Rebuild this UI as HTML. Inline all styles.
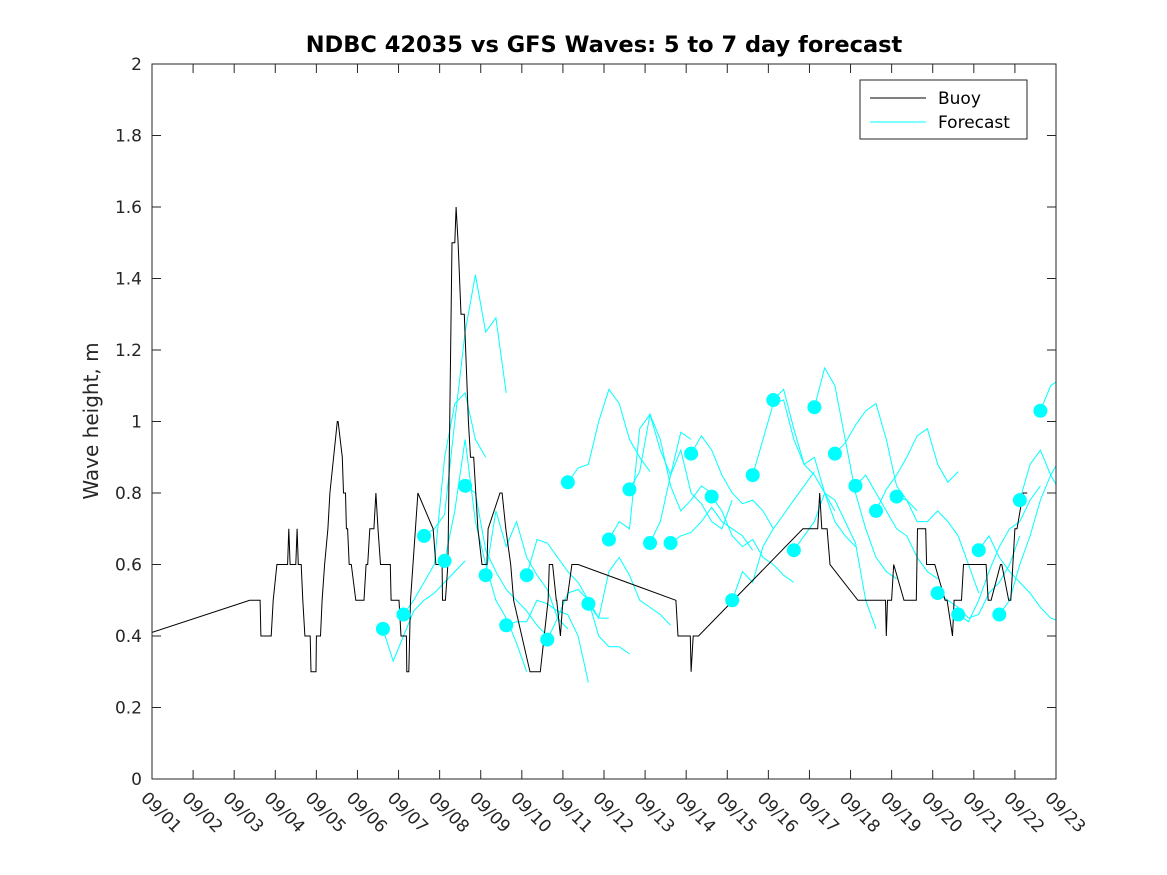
<!DOCTYPE html>
<html><head><meta charset="utf-8"><style>
body{margin:0;background:#fff;}
svg{display:block;font-family:"DejaVu Sans","Liberation Sans",sans-serif;}
</style></head><body>
<svg id="chart" width="1167" height="875" viewBox="0 0 1167 875">
<rect width="1167" height="875" fill="#fff"/>
<text x="604" y="52" text-anchor="middle" font-size="22.5" font-weight="bold" fill="#000">NDBC 42035 vs GFS Waves: 5 to 7 day forecast</text>
<text transform="translate(98,421) rotate(-90)" text-anchor="middle" font-size="20" fill="#262626">Wave height, m</text>
<g id="plot"></g>
</svg>
<script>
const yTicks=[0,0.2,0.4,0.6,0.8,1,1.2,1.4,1.6,1.8,2];
const yTickLabels=["0","0.2","0.4","0.6","0.8","1","1.2","1.4","1.6","1.8","2"];
const xTickLabels=["09/01","09/02","09/03","09/04","09/05","09/06","09/07","09/08","09/09","09/10","09/11","09/12","09/13","09/14","09/15","09/16","09/17","09/18","09/19","09/20","09/21","09/22","09/23"];
// buoy: [day, value]
const buoyDays=[0,2.38,2.63,2.65,2.9,2.95,3.04,3.3,3.33,3.36,3.5,3.53,3.56,3.63,3.67,3.72,3.85,3.87,3.99,4.0,4.1,4.14,4.2,4.28,4.33,4.42,4.51,4.53,4.63,4.66,4.71,4.73,4.76,4.8,4.85,4.96,5.16,5.21,5.25,5.3,5.4,5.45,5.5,5.56,5.8,5.82,6.01,6.06,6.19,6.2,6.25,6.29,6.47,6.84,6.91,7.06,7.07,7.14,7.2,7.3,7.37,7.4,7.45,7.52,7.6,7.7,7.75,7.83,7.88,7.93,8.03,8.15,8.18,8.47,8.52,8.61,8.73,8.8,9.2,9.45,9.64,9.67,9.75,9.84,9.85,9.94,10.0,10.1,10.22,10.37,12.75,12.8,13.1,13.12,13.17,13.2,13.3,15.84,16.2,16.25,16.3,16.43,16.5,17.18,17.85,17.87,17.9,18.0,18.05,18.3,18.6,18.63,18.83,18.85,19.05,19.3,19.35,19.48,19.52,19.7,19.75,20.3,20.35,20.42,20.65,20.68,20.85,20.9,21.0,21.05,21.2,21.3];
const buoyVals=[0.41,0.5,0.5,0.4,0.4,0.5,0.6,0.6,0.7,0.6,0.6,0.7,0.6,0.6,0.5,0.4,0.4,0.3,0.3,0.4,0.4,0.5,0.6,0.7,0.8,0.9,1.0,1.0,0.9,0.8,0.8,0.7,0.7,0.6,0.6,0.5,0.5,0.6,0.6,0.7,0.7,0.8,0.7,0.6,0.6,0.5,0.5,0.4,0.4,0.3,0.3,0.5,0.8,0.7,0.6,0.6,0.5,0.5,0.6,1.5,1.5,1.6,1.5,1.3,1.3,1.0,0.9,0.9,0.8,0.7,0.6,0.6,0.7,0.8,0.8,0.7,0.6,0.5,0.3,0.3,0.5,0.6,0.6,0.5,0.5,0.4,0.5,0.5,0.6,0.6,0.5,0.4,0.4,0.3,0.4,0.4,0.4,0.7,0.7,0.8,0.7,0.7,0.6,0.5,0.5,0.4,0.5,0.5,0.6,0.5,0.5,0.7,0.7,0.6,0.6,0.5,0.5,0.4,0.5,0.5,0.6,0.6,0.5,0.5,0.6,0.6,0.5,0.5,0.7,0.7,0.8,0.8];
const fcStart=5.62, fcStep=0.5, fcSampleStep=0.25;
const fcSeries=[
[0.42,0.33,0.40,0.47,0.50,0.52,0.55,0.58,0.61],
[0.46,0.50,0.55,0.60,0.90,1.05,1.08,0.95,0.90],
[0.68,0.70,0.74,1.00,1.25,1.41,1.25,1.29,1.08],
[0.61,0.75,0.95,0.72,0.60,0.50,0.45,0.38,0.30],
[0.82,0.80,0.64,0.58,0.53,0.50,0.47,0.43,0.40],
[0.57,0.75,0.65,0.72,0.62,0.57,0.53,0.45,0.42],
[0.43,0.44,0.44,0.50,0.49,0.47,0.46,0.40,0.27],
[0.57,0.67,0.66,0.62,0.58,0.55,0.50,0.45,0.45],
[0.39,0.45,0.52,0.53,0.50,0.40,0.37,0.37,0.35],
[0.83,0.87,0.88,1.00,1.09,1.05,0.95,0.90,0.86],
[0.49,0.45,0.58,0.62,0.57,0.50,0.48,0.46,0.43],
[0.67,0.72,0.70,0.98,1.02,0.92,0.85,0.97,0.95],
[0.81,0.86,1.02,0.95,0.82,0.75,0.78,0.82,0.80],
[0.66,0.72,0.85,0.92,0.80,0.77,0.72,0.70,0.78],
[0.66,0.68,0.69,0.72,0.76,0.72,0.70,0.68,0.64],
[0.91,0.96,0.92,0.85,0.80,0.77,0.78,0.75,0.70],
[0.79,0.75,0.68,0.65,0.67,0.62,0.60,0.57,0.55],
[0.50,0.58,0.55,0.65,0.70,0.74,0.78,0.82,0.86],
[0.85,0.95,1.05,1.06,0.95,0.88,0.85,0.80,0.75],
[1.06,1.09,0.98,0.88,0.90,0.80,0.72,0.68,0.65],
[0.64,0.68,0.72,0.80,0.78,0.72,0.66,0.50,0.42],
[1.04,1.15,1.10,0.95,0.80,0.70,0.62,0.58,0.56],
[0.91,0.94,0.99,1.03,1.05,0.95,0.82,0.78,0.75],
[0.82,0.85,0.80,0.75,0.70,0.68,0.62,0.58,0.56],
[0.75,0.81,0.85,0.90,0.96,0.98,0.88,0.83,0.86],
[0.79,0.78,0.72,0.72,0.75,0.72,0.68,0.60,0.52],
[],
[0.52,0.50,0.48,0.45,0.46,0.52,0.55,0.60,0.68],
[0.46,0.44,0.50,0.58,0.65,0.70,0.72,0.78,0.82],
[0.64,0.68,0.62,0.58,0.55,0.52,0.48,0.45,0.44],
[0.46,0.50,0.60,0.68,0.78,0.85,0.90,0.85,0.82],
[0.78,0.88,0.92,0.85,0.80,0.75,0.70,0.65,0.63],
[1.03,1.10,1.12,1.05,1.13]
];
const X0=152,X1=1056,Y0=779,Y1=64,DAYS=22,YMAX=2;
const NS="http://www.w3.org/2000/svg";
function xs(d){return X0+(X1-X0)*d/DAYS;}
function ys(v){return Y0-(Y0-Y1)*v/YMAX;}
function mk(tag,attrs,parent){const e=document.createElementNS(NS,tag);for(const k in attrs)e.setAttribute(k,attrs[k]);parent.appendChild(e);return e;}
const plot=document.getElementById('plot');
const defs=mk('defs',{},plot);
const cp=mk('clipPath',{id:'clip'},defs);
mk('rect',{x:X0,y:Y1,width:X1-X0,height:Y0-Y1},cp);
const data=mk('g',{'clip-path':'url(#clip)'},plot);
fcSeries.forEach((s,i)=>{
  if(!s.length)return;
  const d0=fcStart+fcStep*i;
  const pts=s.map((v,j)=>xs(d0+j*fcSampleStep).toFixed(1)+','+ys(v).toFixed(1)).join(' ');
  const pl=mk('polyline',{points:pts,fill:'none',stroke:'#00ffff','stroke-width':1},data);
  
  
});
const bp=buoyDays.map((d,i)=>xs(d).toFixed(1)+','+ys(buoyVals[i]).toFixed(1)).join(' ');
const bl=mk('polyline',{points:bp,fill:'none',stroke:'#000','stroke-width':1},data);


fcSeries.forEach((s,i)=>{
  if(!s.length)return;
  const c=mk('ellipse',{cx:xs(fcStart+fcStep*i),cy:ys(s[0]),rx:7,ry:7,fill:'#00ffff'},data);
  
  
});
const box=mk('rect',{x:X0,y:Y1,width:X1-X0,height:Y0-Y1,fill:'none',stroke:'#262626','stroke-width':1},plot);


yTicks.forEach((v,i)=>{
  const y=ys(v);
  mk('line',{x1:X0,x2:X0+9,y1:y,y2:y,stroke:'#262626'},plot);
  mk('line',{x1:X1,x2:X1-9,y1:y,y2:y,stroke:'#262626'},plot);
  const t=mk('text',{x:X0-10,y:y+6,'text-anchor':'end','font-size':17,fill:'#262626'},plot);
  t.textContent=yTickLabels[i];
  
  
});
xTickLabels.forEach((lab,i)=>{
  const x=xs(i);
  mk('line',{x1:x,x2:x,y1:Y0,y2:Y0-9,stroke:'#262626'},plot);
  mk('line',{x1:x,x2:x,y1:Y1,y2:Y1+9,stroke:'#262626'},plot);
  const t=mk('text',{transform:'translate('+(x-12)+',799) rotate(45)','font-size':17,fill:'#262626'},plot);
  t.textContent=lab;
  
  
});
const lg=mk('g',{},plot);


mk('rect',{x:860,y:80,width:167,height:59,fill:'#fff',stroke:'#262626'},lg);
mk('line',{x1:870,x2:926,y1:98,y2:98,stroke:'#000'},lg);
mk('line',{x1:870,x2:926,y1:122,y2:122,stroke:'#00ffff'},lg);
const l1=mk('text',{x:938,y:104,'font-size':17,fill:'#000'},lg);l1.textContent='Buoy';


const l2=mk('text',{x:938,y:128,'font-size':17,fill:'#000'},lg);l2.textContent='Forecast';


</script>
</body></html>
